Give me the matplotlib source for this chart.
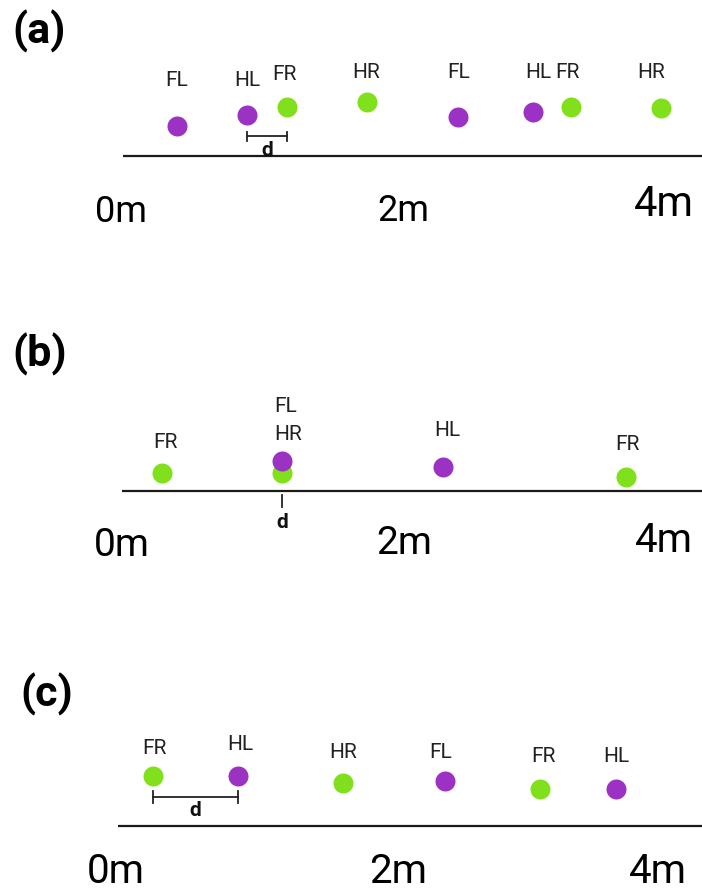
import matplotlib
matplotlib.use('Agg')
import matplotlib.pyplot as plt

plt.rcParams['font.family'] = ['Roboto', 'DejaVu Sans']

# colores de las patas
PURPLE = '#9b32c4'
GREEN = '#80e01c'

# panel (a): posiciones en pixeles de la imagen
labels_a = ['FL', 'HL', 'FR', 'HR', 'FL', 'HL', 'FR', 'HR']
x_a = [177, 247, 287, 367, 458, 533, 571, 661]
y_a = [126, 115, 107, 102, 117, 112, 107, 108]
lx_a = [177, 247, 284, 366, 459, 538, 567, 651]
ly_a = [80, 81, 74, 72, 72, 72, 72, 72]

# panel (b)
labels_b = ['FR', 'HR', 'FL', 'HL', 'FR']
x_b = [162, 282, 282, 443, 626]
y_b = [473, 473, 461, 467, 477]
lx_b = [165, 288, 286, 447, 627]
ly_b = [443, 435, 407, 431, 444]

# panel (c)
labels_c = ['FR', 'HL', 'HR', 'FL', 'FR', 'HL']
x_c = [153, 238, 343, 445, 540, 616]
y_c = [776, 776, 783, 781, 789, 789]
lx_c = [154, 240, 343, 441, 543, 616]
ly_c = [749, 745, 753, 752, 756, 757]

# suelo y marcas de distancia
ground_y = [156, 491, 826]
ground_x0 = [123, 122, 118]
dist_text = ['0m', '2m', '4m']
dist_x = [[121, 403, 664], [122, 404, 664], [116, 398, 658]]
dist_y = [[222, 221, 216], [556, 554, 552], [883, 883, 883]]
dist_size = [[26, 26, 30], [28, 28, 29], [29, 29, 29]]

panel_names = ['(a)', '(b)', '(c)']
panel_x = [12, 12, 20]
panel_y = [31, 354, 694]


def color_for(name):
    return PURPLE if name in ('FL', 'HL') else GREEN


fig = plt.figure(figsize=(7.02, 8.92), dpi=100)
ax = fig.add_axes([0, 0, 1, 1])
ax.set_xlim(0, 702)
ax.set_ylim(892, 0)
ax.axis('off')

for labels, xs, ys, lxs, lys in [(labels_a, x_a, y_a, lx_a, ly_a),
                                 (labels_b, x_b, y_b, lx_b, ly_b),
                                 (labels_c, x_c, y_c, lx_c, ly_c)]:
    for name, x, y in zip(labels, xs, ys):
        ax.plot(x, y, 'o', markersize=14.4, color=color_for(name),
                markeredgewidth=0, zorder=3)
    for name, lx, ly in zip(labels, lxs, lys):
        ax.text(lx, ly, name, ha='center', va='center', fontsize=15,
                color='#222222')

# lineas de suelo y etiquetas de metros
for i in range(3):
    ax.plot([ground_x0[i], 702], [ground_y[i], ground_y[i]], color='#1a1a1a',
            linewidth=1.6, solid_capstyle='butt')
    for t, x, y, s in zip(dist_text, dist_x[i], dist_y[i], dist_size[i]):
        ax.text(x, y, t, ha='center', va='baseline', fontsize=s, color='black')
    ax.text(panel_x[i], panel_y[i], panel_names[i], ha='left', va='center',
            fontsize=31, fontweight='bold', color='black')

# distancia d
# (a) entre HL y FR
ax.plot([x_a[1], x_a[2]], [136, 136], color='#222222', linewidth=1.3)
for x in (x_a[1], x_a[2]):
    ax.plot([x, x], [132, 141], color='#222222', linewidth=1.3)
ax.text((x_a[1] + x_a[2]) / 2, 150, 'd', ha='center', va='center',
        fontsize=15, fontweight='bold', color='#111111')

# (b) d = 0
ax.plot([x_b[1], x_b[1]], [495, 507], color='#222222', linewidth=1.3)
ax.text(x_b[1], 522, 'd', ha='center', va='center', fontsize=15,
        fontweight='bold', color='#111111')

# (c) entre FR y HL
ax.plot([x_c[0], x_c[1]], [797, 797], color='#222222', linewidth=1.3)
for x in (x_c[0], x_c[1]):
    ax.plot([x, x], [791, 803], color='#222222', linewidth=1.3)
ax.text((x_c[0] + x_c[1]) / 2, 811, 'd', ha='center', va='center',
        fontsize=15, fontweight='bold', color='#111111')

fig.savefig('out.png', dpi=100)
plt.close(fig)
